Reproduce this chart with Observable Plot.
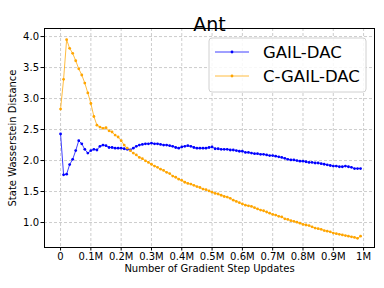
<!DOCTYPE html>
<html>
<head>
<meta charset="utf-8">
<script src="https://cdn.jsdelivr.net/npm/d3@7"></script>
<script src="https://cdn.jsdelivr.net/npm/@observablehq/plot@0.6"></script>
<style>
  html, body { margin: 0; padding: 0; background: #fff; }
  #chart { position: relative; width: 384px; height: 288px; }
  svg { font-family: "DejaVu Sans", sans-serif; }
</style>
</head>
<body>
<div id="chart"></div>
<script>
const title = "Ant";
const xLabel = "Number of Gradient Step Updates";
const yLabel = "State Wasserstein Distance";
const seriesNames = ["GAIL-DAC", "C-GAIL-DAC"];
const seriesColors = ["blue", "orange"];

// gradient steps, in thousands
const stepsK = [0,10,20,30,40,50,60,70,80,90,100,110,120,130,140,150,160,170,180,190,
  200,210,220,230,240,250,260,270,280,290,300,310,320,330,340,350,360,370,380,390,
  400,410,420,430,440,450,460,470,480,490,500,510,520,530,540,550,560,570,580,590,
  600,610,620,630,640,650,660,670,680,690,700,710,720,730,740,750,760,770,780,790,
  800,810,820,830,840,850,860,870,880,890,900,910,920,930,940,950,960,970,980,990];

const gailDac = [2.43,1.77,1.78,1.935,2.02,2.16,2.32,2.27,2.18,2.12,
  2.16,2.18,2.17,2.23,2.25,2.24,2.21,2.21,2.20,2.20,
  2.20,2.19,2.18,2.17,2.20,2.23,2.25,2.26,2.27,2.27,
  2.28,2.27,2.27,2.26,2.25,2.25,2.24,2.23,2.21,2.20,
  2.22,2.23,2.24,2.23,2.21,2.20,2.20,2.20,2.20,2.21,
  2.22,2.19,2.19,2.18,2.18,2.18,2.17,2.17,2.16,2.15,
  2.15,2.13,2.13,2.12,2.11,2.11,2.10,2.10,2.09,2.08,
  2.08,2.07,2.06,2.05,2.035,2.02,2.01,2.01,2.00,1.99,
  1.99,1.98,1.97,1.97,1.96,1.96,1.95,1.94,1.93,1.92,
  1.91,1.91,1.90,1.90,1.91,1.90,1.89,1.87,1.87,1.87];

const cGailDac = [2.83,3.31,3.95,3.81,3.73,3.61,3.48,3.38,3.25,3.09,
  2.92,2.71,2.57,2.54,2.52,2.53,2.48,2.46,2.41,2.38,
  2.32,2.25,2.20,2.16,2.12,2.09,2.05,2.03,1.995,1.97,
  1.94,1.91,1.89,1.86,1.84,1.81,1.79,1.75,1.73,1.70,
  1.68,1.65,1.63,1.62,1.60,1.58,1.565,1.54,1.53,1.51,
  1.49,1.47,1.46,1.44,1.42,1.41,1.39,1.36,1.34,1.32,
  1.30,1.28,1.27,1.26,1.24,1.22,1.20,1.19,1.17,1.15,
  1.13,1.12,1.10,1.09,1.06,1.05,1.03,1.02,1.005,0.99,
  0.97,0.96,0.95,0.93,0.91,0.90,0.89,0.87,0.86,0.85,
  0.83,0.82,0.81,0.80,0.79,0.78,0.77,0.76,0.745,0.78];

const xTickValues = [0,100,200,300,400,500,600,700,800,900,1000];
const xTickLabels = ["0","0.1M","0.2M","0.3M","0.4M","0.5M","0.6M","0.7M","0.8M","0.9M","1M"];
const yTickValues = [1.0,1.5,2.0,2.5,3.0,3.5,4.0];

const rows = [];
[gailDac, cGailDac].forEach((vals, s) => {
  vals.forEach((v, i) => rows.push({step: stepsK[i], value: v, series: seriesNames[s]}));
});

const colorScale = {domain: seriesNames, range: seriesColors};

const plot = Plot.plot({
  width: 384,
  height: 288,
  marginLeft: 44,
  marginRight: 10,
  marginTop: 28,
  marginBottom: 41,
  style: {fontFamily: "DejaVu Sans", fontSize: "10px", color: "#000", background: "#fff"},
  x: {domain: [-53, 1036], ticks: xTickValues, tickFormat: d => xTickLabels[xTickValues.indexOf(d)], label: null},
  y: {domain: [0.597, 4.13], ticks: yTickValues, tickFormat: d3.format(".1f"), label: null},
  color: colorScale,
  marks: [
    Plot.gridX(xTickValues, {stroke: "#b0b0b0", strokeOpacity: 0.8, strokeDasharray: "3,2", strokeWidth: 0.8}),
    Plot.gridY(yTickValues, {stroke: "#b0b0b0", strokeOpacity: 0.8, strokeDasharray: "3,2", strokeWidth: 0.8}),
    Plot.axisX({ticks: xTickValues, tickFormat: d => xTickLabels[xTickValues.indexOf(d)], tickSize: 3.5, tickPadding: 2, fontSize: 10, label: null}),
    Plot.axisY({ticks: yTickValues, tickFormat: d3.format(".1f"), tickSize: 3.5, tickPadding: 2, fontSize: 10, label: null}),
    Plot.line(rows, {x: "step", y: "value", z: "series", stroke: "series", strokeWidth: 1, strokeOpacity: 0.75}),
    Plot.dot(rows, {x: "step", y: "value", fill: "series", r: 1.4, stroke: null}),
    Plot.frame({stroke: "#000", strokeWidth: 1}),
    Plot.text([title], {frameAnchor: "top", dy: -11, fontSize: 19, fill: "#000"}),
    Plot.text([xLabel], {frameAnchor: "bottom", dy: 24, fontSize: 10, fill: "#000"}),
    Plot.text([yLabel], {frameAnchor: "left", dx: -32, rotate: -90, textAnchor: "middle", fontSize: 10, fill: "#000"})
  ]
});

// legend drawn into the same svg, using the plot's color scale
const svg = d3.select(plot);
const lg = svg.append("g").attr("transform", "translate(209,38)");
lg.append("rect").attr("width", 157).attr("height", 54).attr("rx", 3)
  .attr("fill", "#fff").attr("fill-opacity", 0.85).attr("stroke", "#d0d0d0").attr("stroke-width", 1);
const color = plot.scale("color");
seriesNames.forEach((name, k) => {
  const cy = 14 + k * 24;
  const c = seriesColors[color.domain.indexOf(name)];
  lg.append("line").attr("x1", 6).attr("x2", 40).attr("y1", cy).attr("y2", cy)
    .attr("stroke", c).attr("stroke-width", 1).attr("stroke-opacity", 0.75);
  lg.append("circle").attr("cx", 23).attr("cy", cy).attr("r", 1.4).attr("fill", c);
  lg.append("text").attr("x", 54).attr("y", cy).attr("dy", "0.35em")
    .attr("text-anchor", "start")
    .attr("font-size", 16.5).attr("fill", "#000").text(name);
});

document.getElementById("chart").appendChild(plot);
</script>
</body>
</html>
